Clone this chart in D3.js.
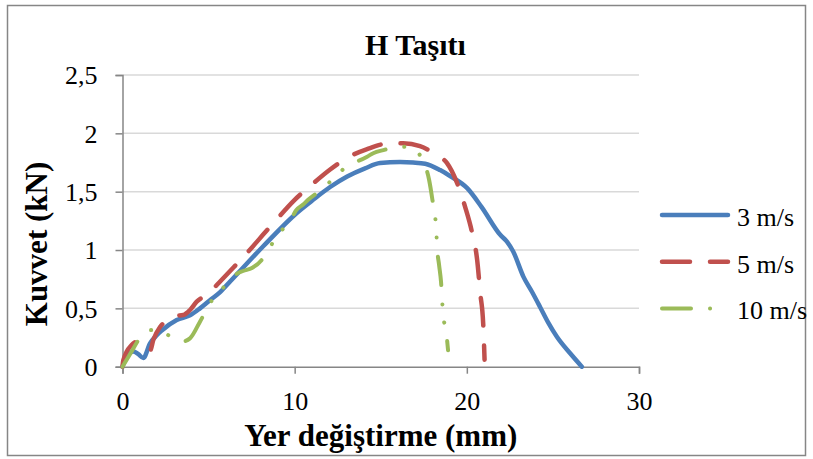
<!DOCTYPE html>
<html>
<head>
<meta charset="utf-8">
<script src="https://cdn.jsdelivr.net/npm/d3@7"></script>
<style>
  body { margin: 0; background: #fff; }
  text { font-family: "Liberation Serif", "Times New Roman", serif; fill: #000; }
</style>
</head>
<body>
<div id="graf"></div>
<script>
// Datos
const titulo = "H Taşıtı"
const tituloX = "Yer değiştirme (mm)"
const tituloY = "Kuvvet (kN)"
const series = ["3 m/s", "5 m/s", "10 m/s"]
const ticksX = [0, 10, 20, 30]
const ticksY = [0, 0.5, 1, 1.5, 2, 2.5]

// [desplazamiento (mm), fuerza (kN)]
const v3 = [
  [0, 0], [0.15, 0.06], [0.63, 0.13], [0.9, 0.11], [1.21, 0.075], [1.6, 0.2],
  [1.99, 0.27], [2.28, 0.31], [3.15, 0.4], [3.92, 0.44], [4.5, 0.5], [5.08, 0.57],
  [5.67, 0.64], [6.25, 0.73], [8.16, 1.03], [10.14, 1.32], [11.07, 1.43],
  [12.06, 1.54], [13.05, 1.63], [14.09, 1.7], [14.96, 1.745], [16.12, 1.754],
  [16.88, 1.75], [17.58, 1.74], [18.45, 1.685], [19.03, 1.634], [20.02, 1.53],
  [20.85, 1.37], [21.94, 1.13], [22.34, 1.07], [22.7, 0.985], [23.29, 0.77],
  [23.79, 0.64], [24.26, 0.51], [24.72, 0.38], [25.23, 0.257], [26.0, 0.115],
  [26.68, 0]
]
const v5 = [
  [0, 0], [0.05, 0.057], [0.53, 0.186], [0.83, 0.214], [1.21, 0.171], [1.6, 0.137],
  [1.79, 0.23], [2.18, 0.34], [2.47, 0.386], [2.95, 0.434], [3.53, 0.443],
  [3.92, 0.486], [4.31, 0.557], [4.69, 0.6], [5.28, 0.67], [5.67, 0.73],
  [6.25, 0.82], [6.83, 0.91], [8.76, 1.23], [10.0, 1.43], [11.07, 1.57],
  [12.06, 1.69], [13.05, 1.79], [14.21, 1.865], [15.54, 1.915], [16.3, 1.915],
  [17.28, 1.89], [18.27, 1.81], [18.85, 1.745], [19.42, 1.58], [19.9, 1.37],
  [20.31, 1.145], [20.6, 0.914], [20.78, 0.63], [20.95, 0.37], [21.03, 0.06]
]
const v10 = [
  [0, 0], [0.53, 0.13], [0.86, 0.214], [1.21, 0.286], [1.6, 0.314], [2.47, 0.286],
  [2.95, 0.243], [3.44, 0.214], [3.92, 0.243], [4.5, 0.386], [4.85, 0.48],
  [5.18, 0.566], [5.57, 0.63], [6.25, 0.743], [6.54, 0.786], [7.0, 0.82],
  [7.52, 0.846], [8.16, 0.93], [8.45, 1.0], [8.86, 1.09], [9.15, 1.15],
  [9.85, 1.28], [10.08, 1.34], [10.49, 1.39], [10.78, 1.43], [11.65, 1.53],
  [11.94, 1.57], [12.35, 1.625], [12.76, 1.685], [13.51, 1.755], [13.8, 1.77],
  [14.21, 1.8], [14.56, 1.83], [15.25, 1.86], [15.72, 1.88], [16.01, 1.88],
  [16.48, 1.885], [17.12, 1.84], [17.52, 1.745], [17.81, 1.6], [17.98, 1.45],
  [18.22, 1.18], [18.27, 1.03], [18.39, 0.87], [18.5, 0.73], [18.62, 0.45],
  [18.8, 0.3], [18.91, 0.14]
]

const draw = () => {
  const graf = d3.select("#graf")

  // Dimensiones
  const anchoTotal = 813
  const altoTotal = 459
  const margins = { top: 75, right: 174, bottom: 92.3, left: 122.5 }
  const ancho = anchoTotal - margins.left - margins.right
  const alto = altoTotal - margins.top - margins.bottom

  // Estilos de las series
  const color = d3.scaleOrdinal().domain(series).range(["#4a7ebb", "#c0504d", "#9bbb59"])
  const grosor = { "3 m/s": 4.5, "5 m/s": 4.5, "10 m/s": 4 }
  const trazo = { "3 m/s": null, "5 m/s": "28 20", "10 m/s": "29 19 0.1 18 0.1 19" }
  const datos = { "3 m/s": v3, "5 m/s": v5, "10 m/s": v10 }

  // Escaladores
  const x = d3.scaleLinear().domain([0, 30]).range([0, ancho])
  const y = d3.scaleLinear().domain([0, 2.5]).range([alto, 0])

  const svg = graf
    .append("svg")
    .attr("width", anchoTotal)
    .attr("height", altoTotal)

  // Marco exterior
  svg
    .append("rect")
    .attr("x", 7.5)
    .attr("y", 5.5)
    .attr("width", 798)
    .attr("height", 450)
    .attr("fill", "#fff")
    .attr("stroke", "#868686")
    .attr("stroke-width", 1.5)

  const chart = svg
    .append("g")
    .attr("transform", `translate(${margins.left}, ${margins.top})`)

  // Rejilla horizontal
  chart
    .selectAll("line.grid")
    .data(ticksY.filter((d) => d > 0))
    .join("line")
    .classed("grid", true)
    .attr("x1", 0)
    .attr("x2", ancho)
    .attr("y1", (d) => y(d))
    .attr("y2", (d) => y(d))
    .attr("stroke", "#d9d9d9")
    .attr("stroke-width", 1.5)

  // Ejes
  const formatoY = (d) => String(d).replace(".", ",")

  const xAxisGroup = chart
    .append("g")
    .attr("transform", `translate(0, ${alto})`)
    .call(d3.axisBottom(x).tickValues(ticksX).tickSize(7).tickPadding(18))

  const yAxisGroup = chart
    .append("g")
    .call(d3.axisLeft(y).tickValues(ticksY).tickSize(7).tickPadding(18).tickFormat(formatoY))

  ;[xAxisGroup, yAxisGroup].forEach((g) => {
    g.select(".domain").attr("stroke", "#868686").attr("stroke-width", 1.5)
    g.selectAll(".tick line").attr("stroke", "#868686").attr("stroke-width", 1.5)
    g.selectAll(".tick text")
      .style("font-family", '"Liberation Serif", "Times New Roman", serif')
      .style("font-size", "26px")
      .attr("fill", "#000")
  })
  xAxisGroup.selectAll(".tick text").attr("dy", "0.71em")
  yAxisGroup.selectAll(".tick text").attr("dy", "0.34em")

  // Líneas
  const linea = d3
    .line()
    .x((d) => x(d[0]))
    .y((d) => y(d[1]))
    .curve(d3.curveMonotoneX)

  series.forEach((s) => {
    chart
      .append("path")
      .datum(datos[s])
      .attr("fill", "none")
      .attr("stroke", color(s))
      .attr("stroke-width", grosor[s])
      .attr("stroke-linecap", "round")
      .attr("stroke-linejoin", "round")
      .attr("stroke-dasharray", trazo[s])
      .attr("d", linea)
  })

  // Títulos
  svg
    .append("text")
    .attr("x", 415.5)
    .attr("y", 55)
    .attr("text-anchor", "middle")
    .style("font-size", "30px")
    .style("font-weight", "bold")
    .text(titulo)

  svg
    .append("text")
    .attr("x", margins.left + ancho / 2)
    .attr("y", 446)
    .attr("text-anchor", "middle")
    .style("font-size", "31px")
    .style("font-weight", "bold")
    .text(tituloX)

  svg
    .append("text")
    .attr("transform", "translate(47, 244) rotate(-90)")
    .attr("text-anchor", "middle")
    .style("font-size", "31px")
    .style("font-weight", "bold")
    .text(tituloY)

  // Leyenda
  const leyenda = svg
    .selectAll("g.leyenda")
    .data(series)
    .join("g")
    .classed("leyenda", true)
    .attr("transform", (d, i) => `translate(0, ${215 + i * 46.7})`)

  leyenda
    .append("line")
    .attr("x1", 662)
    .attr("x2", (d) => (d == "10 m/s" ? 724 : 728))
    .attr("stroke", (d) => color(d))
    .attr("stroke-width", (d) => grosor[d])
    .attr("stroke-linecap", "round")
    .attr("stroke-dasharray", (d) => trazo[d])

  leyenda
    .append("text")
    .attr("x", 737)
    .attr("y", 11)
    .style("font-size", "26px")
    .text((d) => d)
}

draw()
</script>
</body>
</html>
